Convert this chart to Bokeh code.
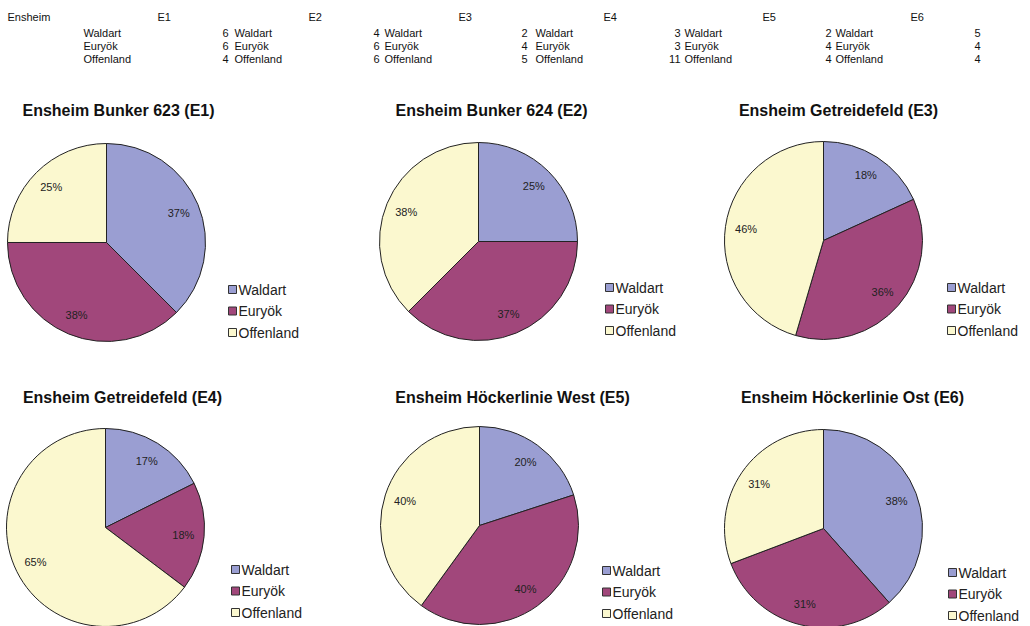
import math
from bokeh.plotting import figure
from bokeh.models import Range1d
from bokeh.core.properties import value
from bokeh.embed import file_html
from bokeh.resources import INLINE

# ---- data ----
categories = ["Waldart", "Euryök", "Offenland"]
site_codes = ["E1", "E2", "E3", "E4", "E5", "E6"]
site_titles = [
    "Ensheim Bunker 623 (E1)",
    "Ensheim Bunker 624 (E2)",
    "Ensheim Getreidefeld (E3)",
    "Ensheim Getreidefeld (E4)",
    "Ensheim Höckerlinie West (E5)",
    "Ensheim Höckerlinie Ost (E6)",
]
waldart = [6, 4, 2, 3, 2, 5]
euryoek = [6, 6, 4, 3, 4, 4]
offenland = [4, 6, 5, 11, 4, 4]
pct_labels = [
    ["37%", "38%", "25%"],
    ["25%", "37%", "38%"],
    ["18%", "36%", "46%"],
    ["17%", "18%", "65%"],
    ["20%", "40%", "40%"],
    ["38%", "31%", "31%"],
]
table_header = "Ensheim"

# ---- styling / layout ----
colors = ["#9A9ED2", "#A1477B", "#FBF8CF"]
W, H = 1030, 626
FONT = "Liberation Sans"
pie_centers = [(106, 242), (478, 241), (823, 240), (105, 527), (479, 525), (823, 528)]
title_pos = [(118, 110), (491, 110), (838, 110), (122, 397), (512, 397), (852, 397)]
legend_pos = [(232, 289), (609, 287), (951, 287), (235, 569), (606, 570), (952, 572)]
R = 99


def Y(y):
    return H - y


p = figure(width=W, height=H, output_backend="svg", toolbar_location=None,
           x_range=Range1d(0, W), y_range=Range1d(0, H), min_border=0)
p.axis.visible = False
p.grid.visible = False
p.outline_line_color = None
p.background_fill_color = "white"

# ---- top table ----
series = [waldart, euryoek, offenland]
row_y = [32, 45, 58]
head_x = [157, 308, 458, 603, 762, 910]
val_x = [228, 379, 527, 680, 831, 980]
lab_x = [83, 234, 384, 535, 684, 835]
tfs = "11px"
p.text(x=[7], y=[Y(16)], text=[table_header], text_font=value(FONT), text_font_size=tfs,
       text_baseline="middle", text_align="left", text_color="#111")
p.text(x=head_x, y=[Y(16)] * 6, text=site_codes, text_font=value(FONT), text_font_size=tfs,
       text_baseline="middle", text_align="left", text_color="#111")
for r, ser in enumerate(series):
    p.text(x=lab_x, y=[Y(row_y[r])] * len(lab_x), text=[categories[r]] * len(lab_x),
           text_font=value(FONT), text_font_size=tfs, text_baseline="middle",
           text_align="left", text_color="#111")
    p.text(x=val_x, y=[Y(row_y[r])] * len(val_x), text=[str(v) for v in ser],
           text_font=value(FONT), text_font_size=tfs, text_baseline="middle",
           text_align="right", text_color="#111")

# ---- pies ----
for i in range(6):
    vals = [waldart[i], euryoek[i], offenland[i]]
    total = sum(vals)
    cx, cy = pie_centers[i]
    starts, ends, lx, ly = [], [], [], []
    cum = 0.0
    for v in vals:
        a0 = math.pi / 2 - 2 * math.pi * cum / total
        cum += v
        a1 = math.pi / 2 - 2 * math.pi * cum / total
        starts.append(a0)
        ends.append(a1)
        mid = (a0 + a1) / 2
        lx.append(cx + 0.79 * R * math.cos(mid))
        ly.append(Y(cy) + 0.79 * R * math.sin(mid))
    p.wedge(x=[cx] * 3, y=[Y(cy)] * 3, radius=R, radius_units="screen",
            start_angle=starts, end_angle=ends, direction="clock",
            fill_color=colors, line_color="#222222", line_width=1)
    p.text(x=lx, y=ly, text=pct_labels[i], text_font=value(FONT), text_font_size="11px",
           text_align="center", text_baseline="middle", text_color="#222")
    tx, ty = title_pos[i]
    p.text(x=[tx], y=[Y(ty)], text=[site_titles[i]], text_font=value(FONT),
           text_font_size="16px", text_font_style="bold", text_align="center",
           text_baseline="middle", text_color="#111")
    lgx, lgy = legend_pos[i]
    ys = [Y(lgy), Y(lgy + 21.5), Y(lgy + 43)]
    p.scatter(x=[lgx] * 3, y=ys, marker="square", size=8, fill_color=colors,
              line_color="#333333", line_width=1)
    p.text(x=[lgx + 6] * 3, y=ys, text=categories, text_font=value(FONT),
           text_font_size="14px", text_align="left", text_baseline="middle",
           text_color="#222")

open("out.html", "w").write(file_html(p, INLINE))
